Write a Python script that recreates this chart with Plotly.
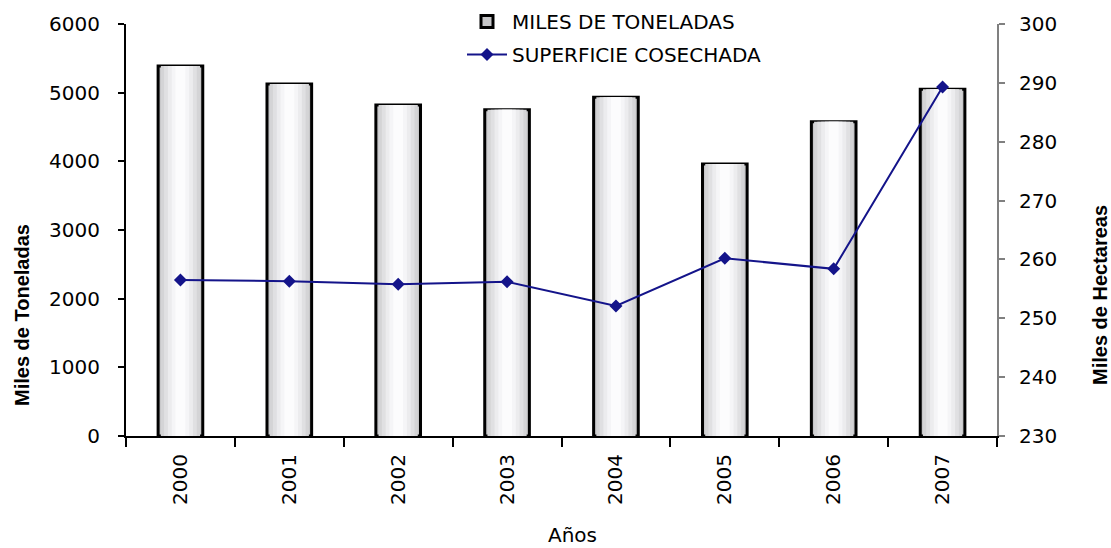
import plotly.graph_objects as go

years = ["2000", "2001", "2002", "2003", "2004", "2005", "2006", "2007"]
toneladas = [5390, 5125, 4820, 4750, 4935, 3960, 4575, 5050]
superficie = [256.5, 256.3, 255.8, 256.2, 252.1, 260.2, 258.4, 289.3]

FONT = "DejaVu Sans, sans-serif"
BOLD = "Liberation Sans, Arial, sans-serif"

fig = go.Figure()

# cylinder-like shading: outer bar with outline, narrower lighter bars on top
layers = [
    (0.41, "#c6c6c8", True),
    (0.36, "#d4d4d6", False),
    (0.30, "#e0e0e2", False),
    (0.23, "#ececee", False),
    (0.16, "#f5f5f7", False),
    (0.09, "#fcfcfd", False),
]
for i, (w, col, outline) in enumerate(layers):
    fig.add_trace(go.Bar(
        x=years, y=toneladas, width=w,
        marker=dict(color=col,
                    line=dict(color="black", width=3 if outline else 0)),
        name="MILES DE TONELADAS", showlegend=(i == 0), legendgroup="a",
        hoverinfo="skip" if i else None,
    ))

fig.add_trace(go.Scatter(
    x=years, y=superficie, yaxis="y2", mode="lines+markers",
    line=dict(color="#14148a", width=2),
    marker=dict(symbol="diamond", size=10, color="#14148a"),
    name="SUPERFICIE COSECHADA", legendgroup="b",
))

fig.update_layout(
    width=1111, height=548,
    margin=dict(l=126, r=114, t=24, b=112, autoexpand=False),
    paper_bgcolor="white", plot_bgcolor="white",
    barmode="overlay",
    font=dict(family=FONT, size=20, color="black"),
    showlegend=True,
    legend=dict(x=462 / 1111, y=1 - 2 / 548, xref="container",
                yref="container", xanchor="left", yanchor="top",
                bgcolor="rgba(0,0,0,0)", font=dict(size=20),
                itemwidth=40, tracegroupgap=4),
    xaxis=dict(
        type="category", showline=True, linecolor="black", linewidth=2,
        ticks="outside", ticklen=9, tickwidth=2, tickcolor="black",
        tickson="boundaries", tickangle=-90, showgrid=False,
        tickfont=dict(size=20), range=[-0.5, 7.5], ticklabelstandoff=8,
    ),
    yaxis=dict(
        range=[0, 6000], dtick=1000, showline=True, linecolor="black",
        linewidth=2, ticks="outside", ticklen=6, tickwidth=2,
        tickcolor="black", showgrid=False, zeroline=False,
        tickfont=dict(size=20), ticklabelstandoff=14,
    ),
    yaxis2=dict(
        range=[230, 300], dtick=10, overlaying="y", side="right",
        showline=True, linecolor="#808080", linewidth=2, ticks="outside",
        ticklen=6, tickwidth=2, tickcolor="#808080", showgrid=False,
        zeroline=False, tickfont=dict(size=20), ticklabelstandoff=10,
    ),
    annotations=[
        dict(text="<b>Miles de Toneladas</b>", x=22, y=315, xref="paper",
             yref="paper", showarrow=False, textangle=-90,
             font=dict(size=20, family=BOLD)),
        dict(text="<b>Miles de Hectareas</b>", x=1100, y=295, xref="paper",
             yref="paper", showarrow=False, textangle=-90,
             font=dict(size=20, family=BOLD)),
        dict(text="Años", x=572, y=535, xref="paper", yref="paper",
             showarrow=False, font=dict(size=20)),
    ],
)

# convert pixel annotation positions to paper coords
pw, ph = 1111 - 126 - 114, 548 - 24 - 112
for a in fig.layout.annotations:
    a.x = (a.x - 126) / pw
    a.y = (548 - 112 - a.y) / ph
    a.xanchor = "center"
    a.yanchor = "middle"

fig.write_html("out.html")
